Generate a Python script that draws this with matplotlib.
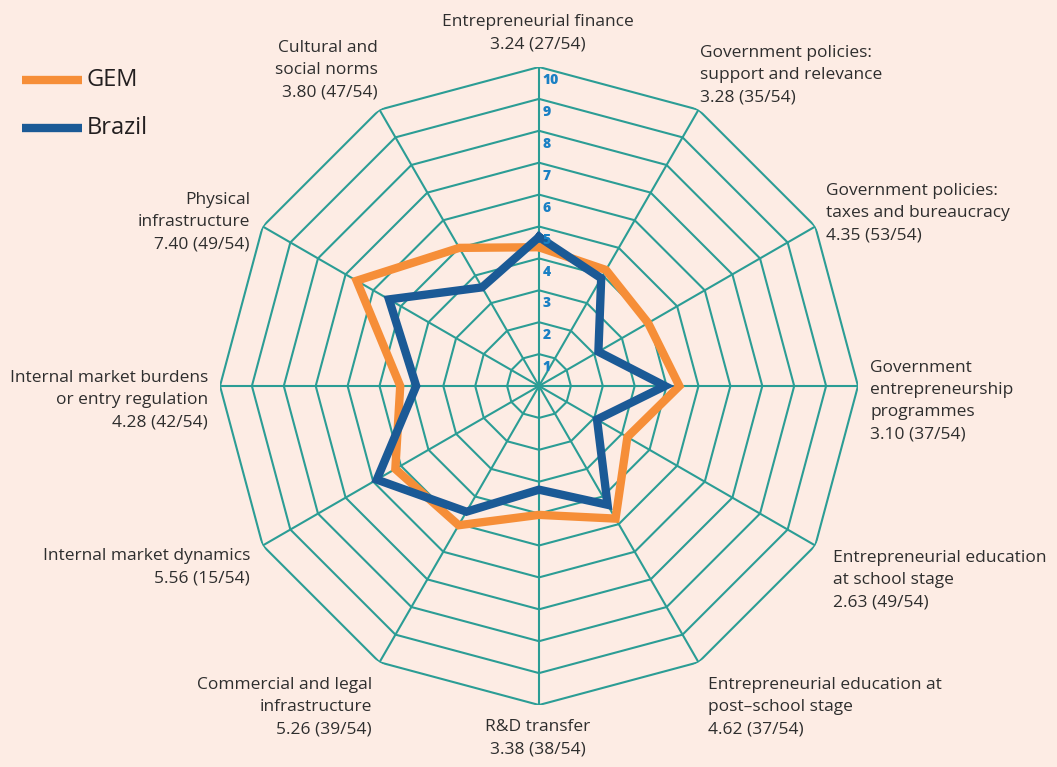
import matplotlib
matplotlib.use('Agg')
import matplotlib.pyplot as plt
from matplotlib.lines import Line2D
import numpy as np

W, H = 1057, 767

categories = [
    "Entrepreneurial finance\n3.24 (27/54)",
    "Government policies:\nsupport and relevance\n3.28 (35/54)",
    "Government policies:\ntaxes and bureaucracy\n4.35 (53/54)",
    "Government\nentrepreneurship\nprogrammes\n3.10 (37/54)",
    "Entrepreneurial education\nat school stage\n2.63 (49/54)",
    "Entrepreneurial education at\npost\u2013school stage\n4.62 (37/54)",
    "R&D transfer\n3.38 (38/54)",
    "Commercial and legal\ninfrastructure\n5.26 (39/54)",
    "Internal market dynamics\n5.56 (15/54)",
    "Internal market burdens\nor entry regulation\n4.28 (42/54)",
    "Physical\ninfrastructure\n7.40 (49/54)",
    "Cultural and\nsocial norms\n3.80 (47/54)",
]
gem    = [4.35, 4.20, 3.95, 4.40, 3.20, 4.80, 4.04, 5.04, 5.20, 4.35, 6.60, 5.00]
brazil = [4.67, 3.90, 2.15, 3.95, 2.10, 4.30, 3.25, 4.55, 5.87, 3.85, 5.43, 3.57]
rings = list(range(1, 11))

# label anchor (pixels from top-left) and alignment
label_pos = [
    (538, 33, 'center'), (700, 75, 'left'), (826, 213, 'left'),
    (870, 401, 'left'), (833, 580, 'left'), (708, 707, 'left'),
    (538, 738, 'center'), (372, 707, 'right'), (250, 567, 'right'),
    (208, 400, 'right'), (250, 222, 'right'), (378, 70, 'right'),
]

BG = '#fdece4'
GRID = '#2b9d95'
ORANGE = '#f68e38'
BLUE = '#1b5a96'
TXT = '#2e2e2e'

plt.rcParams['font.family'] = ['Open Sans', 'DejaVu Sans']

fig = plt.figure(figsize=(W / 100, H / 100), dpi=100, facecolor=BG)
cx, cy, R = 539, 386, 319
ax = fig.add_axes([(cx - R) / W, 1 - (cy + R) / H, 2 * R / W, 2 * R / H],
                  projection='polar')
ax.set_theta_zero_location('N')
ax.set_theta_direction(-1)
ax.set_ylim(0, 10)
ax.patch.set_alpha(0)
ax.spines['polar'].set_visible(False)
ax.grid(False)
ax.set_xticks([])
ax.set_yticks([])

n = len(categories)
theta = np.linspace(0, 2 * np.pi, n, endpoint=False)
closed = np.append(theta, theta[0])

# polygon grid
for r in rings:
    ax.plot(closed, [r] * (n + 1), color=GRID, lw=1.5, zorder=1)
for t in theta:
    ax.plot([t, t], [0, 10], color=GRID, lw=1.5, zorder=1)

ax.plot(closed, gem + gem[:1], color=ORANGE, lw=6, solid_joinstyle='miter', zorder=3)
ax.plot(closed, brazil + brazil[:1], color=BLUE, lw=6, solid_joinstyle='miter', zorder=4)

for r in rings:
    ax.annotate(str(r), xy=(0, r), xytext=(2.5, -9.5), textcoords='offset points',
                ha='left', va='center', fontsize=10, fontweight='heavy',
                color='#1a80c4', zorder=5)

for txt, (x, y, ha) in zip(categories, label_pos):
    fig.text(x / W, 1 - y / H, txt, ha=ha, va='center', multialignment=ha,
             fontsize=12.5, color=TXT, linespacing=1.52)

# legend
for name, col, y in [('GEM', ORANGE, 80), ('Brazil', BLUE, 128)]:
    fig.add_artist(Line2D([22 / W, 82 / W], [1 - y / H] * 2, color=col, lw=6,
                          solid_capstyle='butt'))
    fig.text(87 / W, 1 - y / H, name, ha='left', va='center', fontsize=17, color='#231f20')

fig.savefig('out.png', dpi=100, facecolor=BG)
